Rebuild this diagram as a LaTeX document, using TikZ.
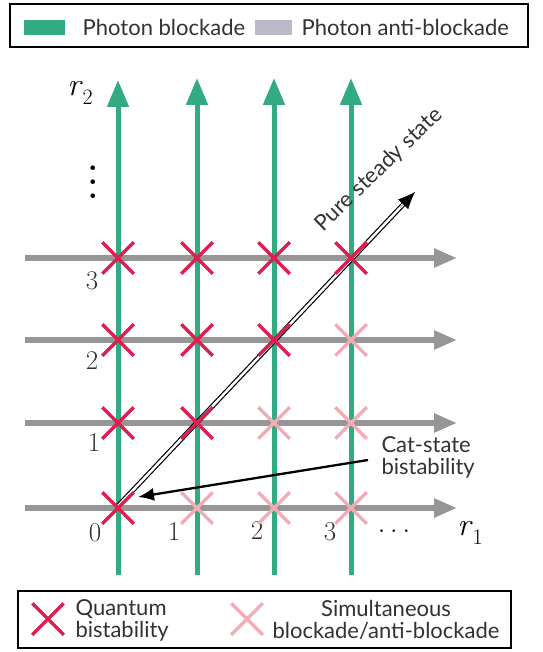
\documentclass[tikz,border=0pt]{standalone}
\usepackage{fontspec}
\usepackage{tikz}
\usetikzlibrary{arrows.meta,shapes.misc,positioning}
\newfontfamily\labelfont{Lato}
\definecolor{blockgreen}{RGB}{50,170,130}
\definecolor{antigray}{RGB}{150,150,150}
\definecolor{swatchgray}{RGB}{185,185,200}
\definecolor{quantumred}{RGB}{222,30,80}
\definecolor{simulpink}{RGB}{242,172,182}
\definecolor{textgray}{RGB}{50,50,50}
\newcommand{\axislabel}[1]{\textit{r}\raisebox{-0.28em}{\fontsize{22}{22}\selectfont #1}}

\begin{document}
\begin{tikzpicture}[x=1pt, y=-1pt,
    blockade/.style = {draw=blockgreen, line width=5pt, -{Triangle[length=27pt,width=21pt]}},
    antiblock/.style = {draw=antigray, line width=5.5pt, -{Triangle[length=23pt,width=18pt]}},
    qcross/.style = {draw=quantumred, cross out, line width=3.5pt, minimum size=28pt, inner sep=0pt},
    scross/.style = {qcross, draw=simulpink},
    tick/.style = {font=\fontsize{27}{27}\selectfont, text=textgray},
    axis/.style = {font=\fontsize{32}{32}\selectfont},
    txt/.style = {font=\labelfont\fontsize{22}{22}\selectfont, text=textgray}]
    \useasboundingbox (0,0) rectangle (542,652);

    % top legend
    \draw[line width=1.5pt] (10,4) rectangle (528,47);
    \node[fill=blockgreen, minimum width=41pt, minimum height=15pt, inner sep=0pt] (gswatch) at (44.5,27.5) {};
    \node[txt, right=14pt of gswatch] (gtext) {Photon blockade};
    \node[fill=swatchgray, minimum width=37pt, minimum height=15pt, inner sep=0pt, right=6pt of gtext] (aswatch) {};
    \node[txt, right=6pt of aswatch] (atext) {Photon anti-blockade};

    % axes, photon anti-blockade rows
    \coordinate (r0l) at (25,508);  \coordinate (r0r) at (457,508);
    \coordinate (r1l) at (25,423);  \coordinate (r1r) at (457,423);
    \coordinate (r2l) at (25,340);  \coordinate (r2r) at (457,340);
    \coordinate (r3l) at (25,258);  \coordinate (r3r) at (457,258);
    \draw[antiblock] (r0l) -- (r0r);
    \draw[antiblock] (r1l) -- (r1r);
    \draw[antiblock] (r2l) -- (r2r);
    \draw[antiblock] (r3l) -- (r3r);

    % photon blockade columns
    \coordinate (c0b) at (118,575);  \coordinate (c0t) at (118,80);
    \coordinate (c1b) at (197,575);  \coordinate (c1t) at (197,78);
    \coordinate (c2b) at (274,575);  \coordinate (c2t) at (274,78);
    \coordinate (c3b) at (351,575);  \coordinate (c3t) at (351,78);
    \draw[blockade] (c0b) -- (c0t);
    \draw[blockade] (c1b) -- (c1t);
    \draw[blockade] (c2b) -- (c2t);
    \draw[blockade] (c3b) -- (c3t);

    % tick labels
    \node[tick] (x0) at (95,533) {0};
    \node[tick] (x1) at (174,532) {1};
    \node[tick] (x2) at (257,531) {2};
    \node[tick] (x3) at (330,532) {3};
    \node[axis] (xdots) at (394,531) {.\hspace{0.14em}.\hspace{0.14em}.};
    \node[axis] (r1) at (470,533) {\axislabel{1}};
    \node[tick] (y1) at (94,443) {1};
    \node[tick] (y2) at (92,361) {2};
    \node[tick] (y3) at (92,281) {3};
    \node[axis, align=center, font=\bfseries\fontsize{32}{14}\selectfont] (ydots) at (93,182) {.\\.\\.};
    \node[axis] (r2) at (80,93) {\axislabel{2}};

    % pure steady state
    \coordinate (puretip) at (415,192);
    \draw[line width=1.2pt, double=white, double distance=2.5pt, shorten >=10pt] (118,506) -- (puretip);
    \draw[-{Latex[length=17pt,width=14pt]}, line width=0.1pt] (400,207.5) -- (puretip);
    \node[txt, rotate=44] (pure) at (379,170) {Pure steady state};

    % cat-state bistability
    \node[txt, align=left, anchor=west] (cat) at (378,457) {Cat-state\\bistability};
    \coordinate (cattip) at (138,497);
    \draw[line width=2.3pt, -{Latex[length=16pt,width=13pt]}] ([xshift=-10pt,yshift=-3pt]cat.west) -- (cattip);

    % crosses
    \node[qcross] (q00) at (118,508) {};
    \node[qcross] (q01) at (118,423) {};
    \node[qcross] (q02) at (118,340) {};
    \node[qcross] (q03) at (118,258) {};
    \node[qcross] (q11) at (197,423) {};
    \node[qcross] (q12) at (197,340) {};
    \node[qcross] (q13) at (197,258) {};
    \node[qcross] (q22) at (274,340) {};
    \node[qcross] (q23) at (274,258) {};
    \node[qcross] (q33) at (351,258) {};
    \node[scross] (s10) at (197,508) {};
    \node[scross] (s20) at (274,508) {};
    \node[scross] (s30) at (351,508) {};
    \node[scross] (s21) at (274,423) {};
    \node[scross] (s31) at (351,423) {};
    \node[scross] (s32) at (351,340) {};

    % bottom legend
    \draw[line width=1.5pt] (18,591) rectangle (511,648);
    \node[qcross] (lq) at (48,619) {};
    \node[txt, align=left, anchor=west] (lqtext) at (72,620) {Quantum\\bistability};
    \node[scross] (ls) at (247,619) {};
    \node[txt, align=center] (lstext) at (386,620) {Simultaneous\\blockade/anti-blockade};
\end{tikzpicture}
\end{document}
